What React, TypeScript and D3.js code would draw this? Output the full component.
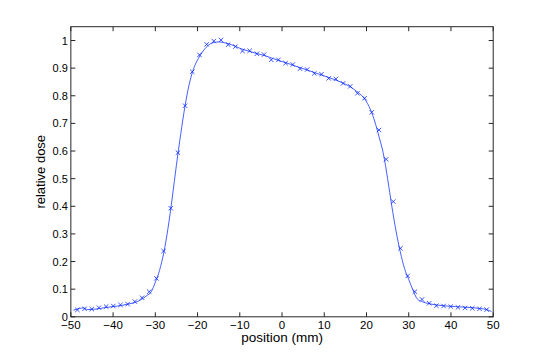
import React from "react";
import * as d3 from "d3";

const markerPos = [
  -48.45, -46.75, -45.05, -43.35, -41.65, -39.95, -38.25, -36.55, -34.85, -33.15,
  -31.45, -29.75, -28.05, -26.35, -24.65, -22.95, -21.25, -19.55, -17.85, -16.15,
  -14.45, -12.75, -11.05, -9.35, -7.65, -5.95, -4.25, -2.55, -0.85, 0.85,
  2.55, 4.25, 5.95, 7.65, 9.35, 11.05, 12.75, 14.45, 16.15, 17.85,
  19.55, 21.25, 22.95, 24.65, 26.35, 28.05, 29.75, 31.45, 33.15, 34.85,
  36.55, 38.25, 39.95, 41.65, 43.35, 45.05, 46.75, 48.45,
];
const markerDose = [
  0.025, 0.029, 0.028, 0.033, 0.037, 0.039, 0.043, 0.046, 0.055, 0.069,
  0.091, 0.139, 0.238, 0.393, 0.594, 0.764, 0.887, 0.948, 0.986, 0.998,
  1.002, 0.985, 0.978, 0.962, 0.963, 0.952, 0.949, 0.930, 0.930, 0.918,
  0.913, 0.898, 0.895, 0.881, 0.878, 0.863, 0.861, 0.845, 0.834, 0.809,
  0.791, 0.740, 0.676, 0.570, 0.417, 0.248, 0.148, 0.091, 0.063, 0.049,
  0.040, 0.039, 0.037, 0.034, 0.032, 0.031, 0.029, 0.026,
];

const linePos = [
  -49.4, -48.0, -47.0, -46.0, -45.0, -44.0, -42.0, -40.0, -38.0, -36.5, -35.0, -33.5,
  -32.0, -31.0, -30.0, -29.0, -28.0, -27.0, -26.0, -25.0, -24.0, -23.0, -22.0, -21.0,
  -20.0, -19.0, -18.0, -17.0, -16.0, -15.0, -14.0, -12.0, -10.0, -8.0, -6.0, -4.0,
  -2.0, 0.0, 2.0, 4.0, 6.0, 8.0, 10.0, 12.0, 14.0, 16.0, 18.0, 19.5, 21.0,
  22.0, 23.0, 24.0, 25.0, 26.0, 27.0, 28.0, 29.0, 30.0, 31.0, 32.0, 33.0,
  35.0, 37.0, 39.0, 41.0, 43.0, 45.0, 47.0, 48.5, 49.6,
];
const lineDose = [
  0.024, 0.030, 0.032, 0.026, 0.027, 0.028, 0.033, 0.037, 0.041, 0.046, 0.051, 0.061,
  0.077, 0.090, 0.125, 0.168, 0.232, 0.320, 0.430, 0.550, 0.660, 0.760, 0.840, 0.895,
  0.930, 0.955, 0.975, 0.988, 0.993, 0.995, 0.993, 0.985, 0.972, 0.962, 0.953, 0.945,
  0.934, 0.924, 0.914, 0.903, 0.893, 0.882, 0.872, 0.861, 0.849, 0.834, 0.812, 0.790, 0.748,
  0.705, 0.650, 0.590, 0.500, 0.400, 0.310, 0.235, 0.175, 0.135, 0.097, 0.065, 0.056,
  0.047, 0.042, 0.039, 0.037, 0.035, 0.033, 0.030, 0.026, 0.019,
];

const xTicks = [-50, -40, -30, -20, -10, 0, 10, 20, 30, 40, 50];
const yTicks = [0, 0.1, 0.2, 0.3, 0.4, 0.5, 0.6, 0.7, 0.8, 0.9, 1];

const W = 545;
const H = 356;
const left = 70.85;
const right = 493.2;
const top = 26.7;
const bottom = 316.8;

export default function App() {
  const x = d3.scaleLinear().domain([-50, 50]).range([left, right]);
  const y = d3.scaleLinear().domain([0, 1.05]).range([bottom, top]);
  const line = d3
    .line<number>()
    .x((_, i) => x(linePos[i]))
    .y((d) => y(d))
    .curve(d3.curveMonotoneX);
  const font = "'Liberation Sans', Arial, Helvetica, sans-serif";
  const axisColor = "#262626";
  const tickLen = 4.5;
  const ms = 2.2;
  return (
    <svg
      width={W}
      height={H}
      style={{ position: "absolute", left: 0, top: 0, background: "#fff" }}
      fontFamily={font}
    >
      <rect x={0} y={0} width={W} height={H} fill="#fff" />
      <path d={line(lineDose) || ""} fill="none" stroke="#0a2aff" strokeWidth={0.75} />
      {markerDose.map((d, i) => {
        const cx = x(markerPos[i]);
        const cy = y(d);
        return (
          <g key={i} stroke="#0a2aff" strokeWidth={0.8}>
            <line x1={cx - ms} y1={cy - ms} x2={cx + ms} y2={cy + ms} />
            <line x1={cx - ms} y1={cy + ms} x2={cx + ms} y2={cy - ms} />
          </g>
        );
      })}
      <rect
        x={left}
        y={top}
        width={right - left}
        height={bottom - top}
        fill="none"
        stroke={axisColor}
        strokeWidth={1}
      />
      {xTicks.map((t) => (
        <g key={"x" + t}>
          <line x1={x(t)} x2={x(t)} y1={bottom} y2={bottom - tickLen} stroke={axisColor} />
          <line x1={x(t)} x2={x(t)} y1={top} y2={top + tickLen} stroke={axisColor} />
          <text x={x(t)} y={bottom + 12.5} fontSize={11.5} textAnchor="middle" fill="#000">
            {t < 0 ? "\u2212" + Math.abs(t) : String(t)}
          </text>
        </g>
      ))}
      {yTicks.map((t) => (
        <g key={"y" + t}>
          <line x1={left} x2={left + tickLen} y1={y(t)} y2={y(t)} stroke={axisColor} />
          <line x1={right} x2={right - tickLen} y1={y(t)} y2={y(t)} stroke={axisColor} />
          <text x={left - 3} y={y(t) + 4} fontSize={11} textAnchor="end" fill="#000">
            {String(t)}
          </text>
        </g>
      ))}
      <text x={(left + right) / 2} y={342} fontSize={13.5} textAnchor="middle" fill="#000">
        position (mm)
      </text>
      <text
        transform={`translate(45, ${(top + bottom) / 2}) rotate(-90)`}
        fontSize={13}
        textAnchor="middle"
        fill="#000"
      >
        relative dose
      </text>
    </svg>
  );
}
